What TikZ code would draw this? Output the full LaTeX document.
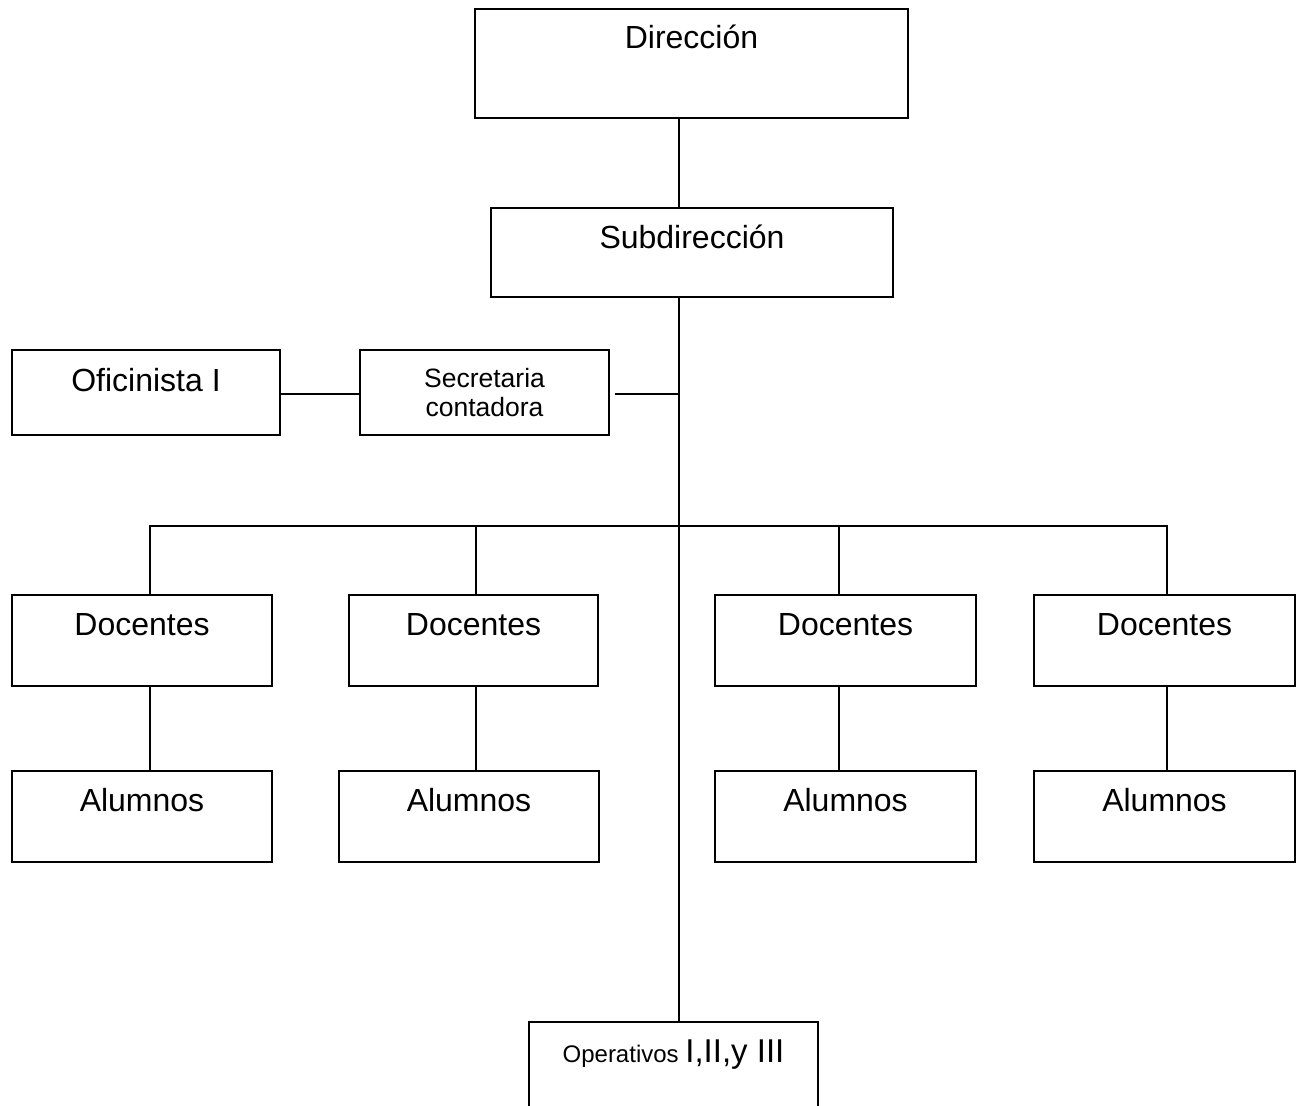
\documentclass[tikz,border=0pt]{standalone}
\usepackage{fontspec}
\setmainfont{Liberation Sans}
\usepackage{tikz}

\tikzset{
  unit/.style = {draw, inner sep = 0pt, anchor = north, font = \fontsize{32}{38}\selectfont, text height = 41pt, text depth = 50pt},
}

\begin{document}
\begin{tikzpicture}[x = 1pt, y = -1pt, line width = 1.6pt]
\useasboundingbox (0,0) rectangle (1297,1105);
\coordinate (trunk) at (679,0);
\coordinate (link) at (679,394);
\coordinate (bus1) at (150,526);
\coordinate (bus2) at (476,526);
\coordinate (bus3) at (839,526);
\coordinate (bus4) at (1167,526);
\node[unit, minimum width = 433pt, text height = 40pt, text depth = 69pt] (dir) at (691.5,8) {Dirección};
\node[unit, minimum width = 402pt, text depth = 48pt] (sub) at (692,207) {Subdirección};
\node[unit, minimum width = 268pt, text height = 42pt, text depth = 43pt] (ofi) at (146,349) {Oficinista I};
\node[unit, minimum width = 249pt, minimum height = 85pt, text height = , text depth = , align = center, font = \fontsize{26.5}{29}\selectfont] (sec) at (484.5,349) {Secretaria\\contadora};
\node[unit, minimum width = 260pt] (doc1) at (142,594) {Docentes};
\node[unit, minimum width = 249pt] (doc2) at (473.5,594) {Docentes};
\node[unit, minimum width = 261pt] (doc3) at (845.5,594) {Docentes};
\node[unit, minimum width = 261pt] (doc4) at (1164.5,594) {Docentes};
\node[unit, minimum width = 260pt] (alu1) at (142,770) {Alumnos};
\node[unit, minimum width = 260pt] (alu2) at (469,770) {Alumnos};
\node[unit, minimum width = 261pt] (alu3) at (845.5,770) {Alumnos};
\node[unit, minimum width = 261pt] (alu4) at (1164.5,770) {Alumnos};
\node[unit, minimum width = 289pt, text depth = 52pt, font = \fontsize{33}{38}\selectfont] (ops) at (673.5,1021) {{\fontsize{24}{29}\selectfont Operativos }I,II,y III};
% trunk
\draw (dir.south -| trunk) -- (sub.north -| trunk);
\draw (sub.south -| trunk) -- (ops.north -| trunk);
% staff
\draw (ofi.east |- link) -- (sec.west |- link);
\draw ([xshift = 5pt]sec.east |- link) -- (link);
% teachers and pupils
\draw (doc1.north -| bus1) -- (bus1) -- (bus4) -- (doc4.north -| bus4);
\draw (bus2) -- (doc2.north -| bus2);
\draw (bus3) -- (doc3.north -| bus3);
\draw (doc1.south -| bus1) -- (alu1.north -| bus1);
\draw (doc2.south -| bus2) -- (alu2.north -| bus2);
\draw (doc3.south -| bus3) -- (alu3.north -| bus3);
\draw (doc4.south -| bus4) -- (alu4.north -| bus4);
\end{tikzpicture}
\end{document}
